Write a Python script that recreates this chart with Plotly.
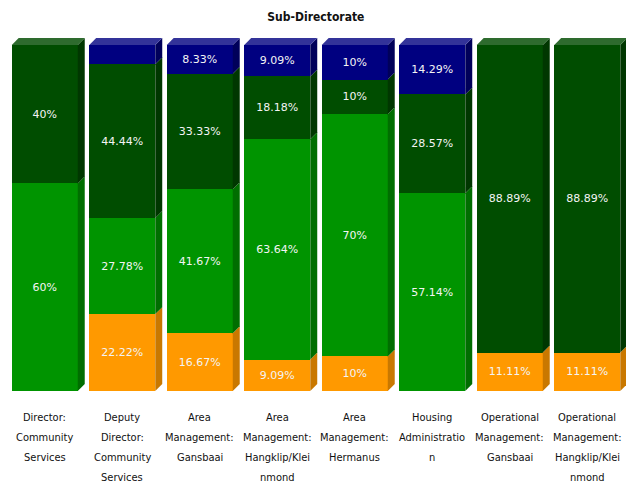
import plotly.graph_objects as go

# Staff distribution per sub-directorate (percent of each unit)
categories = [
    "Director:<br>Community<br>Services",
    "Deputy<br>Director:<br>Community<br>Services",
    "Area<br>Management:<br>Gansbaai",
    "Area<br>Management:<br>Hangklip/Klei<br>nmond",
    "Area<br>Management:<br>Hermanus",
    "Housing<br>Administratio<br>n",
    "Operational<br>Management:<br>Gansbaai",
    "Operational<br>Management:<br>Hangklip/Klei<br>nmond",
]
orange_vals = [0, 22.22, 16.67, 9.09, 10, 0, 11.11, 11.11]
lightgreen_vals = [60, 27.78, 41.67, 63.64, 70, 57.14, 0, 0]
darkgreen_vals = [40, 44.44, 33.33, 18.18, 10, 28.57, 88.89, 88.89]
navy_vals = [0, 5.56, 8.33, 9.09, 10, 14.29, 0, 0]

# (values, front colour, side colour, top colour)
series = [
    ("orange", orange_vals, "#ff9900", "#c97800", "#ffb84d"),
    ("light green", lightgreen_vals, "#009400", "#006e00", "#33aa33"),
    ("dark green", darkgreen_vals, "#004d00", "#003700", "#2e6b2e"),
    ("navy", navy_vals, "#000080", "#00005a", "#333399"),
]

xs = list(range(len(categories)))
BARGAP = 0.148
HALF = (1 - BARGAP) / 2
DX = 0.09      # depth of the 3-D side, category units
DY = 2.02      # depth of the 3-D top, value units
MIN_LABEL = 8  # segments thinner than this carry no label

fig = go.Figure()
shapes = []
bases = [0.0] * len(xs)
tops = [0.0] * len(xs)
top_colour = [None] * len(xs)

for name, vals, front, side, top in series:
    labels = [f"{v:g}%" if v >= MIN_LABEL else "" for v in vals]
    fig.add_trace(go.Bar(
        x=xs, y=vals, name=name, text=labels,
        textposition="inside", insidetextanchor="middle", textangle=0,
        textfont=dict(family="DejaVu Sans", size=11, color="#f4f4f4"),
        marker=dict(color=front, line=dict(width=0)),
        hoverinfo="skip",
    ))
    for i, v in enumerate(vals):
        if v <= 0:
            continue
        b = bases[i]
        t = b + v
        x1 = i + HALF
        shapes.append(dict(
            type="path", xref="x", yref="y", layer="above",
            path=f"M {x1},{b} L {x1 + DX},{b + DY} L {x1 + DX},{t + DY} L {x1},{t} Z",
            fillcolor=side, line=dict(width=0),
        ))
        bases[i] = t
        tops[i] = t
        top_colour[i] = top

for i, t in enumerate(tops):
    x0, x1 = i - HALF, i + HALF
    shapes.append(dict(
        type="path", xref="x", yref="y", layer="above",
        path=f"M {x0},{t} L {x0 + DX},{t + DY} L {x1 + DX},{t + DY} L {x1},{t} Z",
        fillcolor=top_colour[i], line=dict(width=0),
    ))

# Category captions, one annotation per line for a looser line pitch
annotations = []
for i, cat in enumerate(categories):
    for j, line in enumerate(cat.split("<br>")):
        annotations.append(dict(
            x=i, y=0, xref="x", yref="y", text=line, showarrow=False,
            yanchor="middle", yshift=-26 - 20 * j,
            font=dict(family="DejaVu Sans Condensed, DejaVu Sans", size=11, color="#111111"),
        ))

fig.update_layout(
    width=628, height=485,
    margin=dict(l=6, r=2, t=36, b=94),
    paper_bgcolor="white", plot_bgcolor="white",
    barmode="stack", bargap=BARGAP, showlegend=False,
    title=dict(
        text="<b>Sub-Directorate</b>", x=0.503, xanchor="center", y=0.965, yanchor="middle",
        font=dict(family="DejaVu Sans Condensed, DejaVu Sans", size=12, color="#111111"),
    ),
    xaxis=dict(range=[-0.5, len(xs) - 0.5], showticklabels=False, showgrid=False,
               zeroline=False, showline=False, ticks=""),
    yaxis=dict(range=[0, 102.6], showticklabels=False, showgrid=False,
               zeroline=False, showline=False, ticks=""),
    shapes=shapes,
    annotations=annotations,
)

fig.write_html("out.html")
